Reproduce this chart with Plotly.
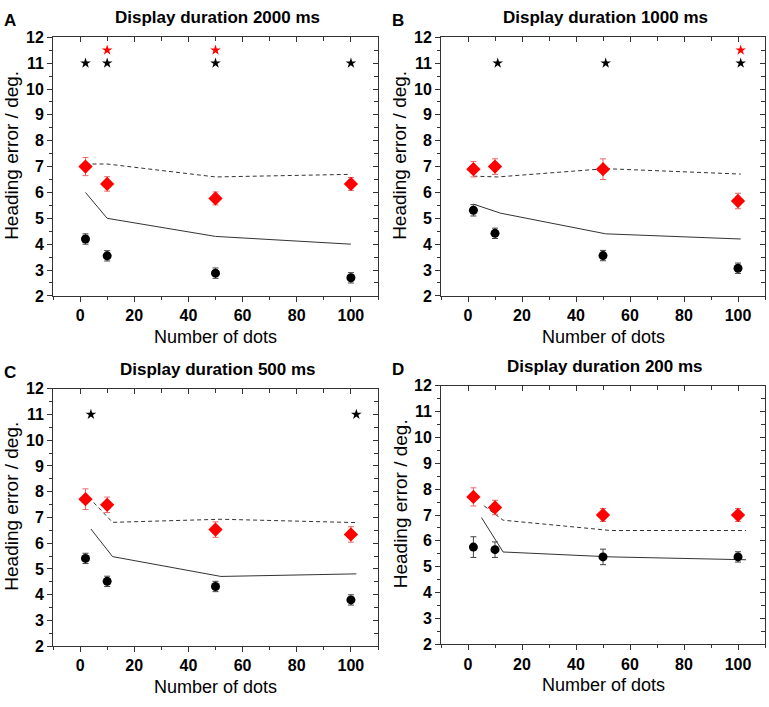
import plotly.graph_objects as go

FONT = "Arial, Liberation Sans, sans-serif"
W, H = 769, 707

dots = [2, 10, 50, 100]
x_ticks = [0, 20, 40, 60, 80, 100]
y_ticks = [2, 3, 4, 5, 6, 7, 8, 9, 10, 11, 12]

# panel A - 2000 ms
a_black = [4.2, 3.55, 2.88, 2.7]
a_black_err = [0.2, 0.2, 0.2, 0.2]
a_red = [7.0, 6.33, 5.77, 6.33]
a_red_err = [0.35, 0.28, 0.25, 0.25]
a_solid_x = [2, 10, 50, 100]
a_solid = [6.0, 5.0, 4.3, 4.0]
a_dash_x = [2, 10, 50, 100]
a_dash = [7.1, 7.1, 6.6, 6.7]
a_star_black = [2, 10, 50, 100]
a_star_red = [10, 50]

# panel B - 1000 ms
b_black = [5.31, 4.42, 3.56, 3.07]
b_black_err = [0.22, 0.2, 0.2, 0.2]
b_red = [6.9, 7.0, 6.9, 5.67]
b_red_err = [0.3, 0.3, 0.4, 0.3]
b_solid_x = [2, 12, 51, 101]
b_solid = [5.55, 5.2, 4.4, 4.2]
b_dash_x = [2, 11, 51, 101]
b_dash = [6.63, 6.6, 6.92, 6.71]
b_star_black = [11, 51, 101]
b_star_red = [101]

# panel C - 500 ms
c_black = [5.41, 4.52, 4.32, 3.8]
c_black_err = [0.2, 0.2, 0.2, 0.2]
c_red = [7.71, 7.49, 6.53, 6.34]
c_red_err = [0.4, 0.3, 0.3, 0.3]
c_solid_x = [4, 12, 52, 102]
c_solid = [6.55, 5.48, 4.71, 4.81]
c_dash_x = [5, 12, 52, 102]
c_dash = [7.58, 6.81, 6.93, 6.8]
c_star_black = [4, 102]
c_star_red = []

# panel D - 200 ms
d_black = [5.76, 5.66, 5.38, 5.38]
d_black_err = [0.4, 0.3, 0.3, 0.2]
d_red = [7.7, 7.29, 7.0, 7.0]
d_red_err = [0.35, 0.28, 0.25, 0.25]
d_solid_x = [5, 13, 53, 103]
d_solid = [6.9, 5.57, 5.38, 5.27]
d_dash_x = [6, 13, 53, 103]
d_dash = [7.35, 6.8, 6.4, 6.4]
d_star_black = []
d_star_red = []

titles = ["Display duration 2000 ms", "Display duration 1000 ms",
          "Display duration 500 ms", "Display duration 200 ms"]
letters = ["A", "B", "C", "D"]

# plot boxes in pixels: left, right, top, bottom
boxes = [(53, 378, 30, 295), (441, 765, 30, 295),
         (53, 378, 390, 654), (441, 765, 387, 652)]

panels = [
    (a_black, a_black_err, a_red, a_red_err, a_solid_x, a_solid, a_dash_x, a_dash, a_star_black, a_star_red),
    (b_black, b_black_err, b_red, b_red_err, b_solid_x, b_solid, b_dash_x, b_dash, b_star_black, b_star_red),
    (c_black, c_black_err, c_red, c_red_err, c_solid_x, c_solid, c_dash_x, c_dash, c_star_black, c_star_red),
    (d_black, d_black_err, d_red, d_red_err, d_solid_x, d_solid, d_dash_x, d_dash, d_star_black, d_star_red),
]

AXC = "#333333"
fig = go.Figure()
layout = {}
annotations = []
tickfont = dict(family=FONT, size=16, color="black", weight="bold")

for i, (blk, blk_e, red, red_e, sx, sy, dx, dy, stb, str_) in enumerate(panels):
    n = i + 1
    xa, ya = f"x{n}", f"y{n}"
    l, r, t, b = boxes[i]
    xd = [l / W, r / W]
    yd = [1 - b / H, 1 - t / H]

    fig.add_trace(go.Scatter(x=sx, y=sy, mode="lines", xaxis=xa, yaxis=ya,
                             line=dict(color="#333333", width=1)))
    fig.add_trace(go.Scatter(x=dx, y=dy, mode="lines", xaxis=xa, yaxis=ya,
                             line=dict(color="#333333", width=1, dash="4px,3px")))
    fig.add_trace(go.Scatter(x=dots, y=blk, mode="markers", xaxis=xa, yaxis=ya,
                             marker=dict(color="black", size=9, symbol="circle"),
                             error_y=dict(type="data", array=blk_e, color="#444444",
                                          thickness=1, width=3)))
    fig.add_trace(go.Scatter(x=dots, y=red, mode="markers", xaxis=xa, yaxis=ya,
                             marker=dict(color="#ff0000", size=11, symbol="diamond"),
                             error_y=dict(type="data", array=red_e, color="#ee6666",
                                          thickness=1, width=3)))
    if stb:
        fig.add_trace(go.Scatter(x=stb, y=[11] * len(stb), mode="markers", xaxis=xa, yaxis=ya,
                                 marker=dict(color="black", size=8, symbol="star")))
    if str_:
        fig.add_trace(go.Scatter(x=str_, y=[11.5] * len(str_), mode="markers", xaxis=xa, yaxis=ya,
                                 marker=dict(color="#ff0000", size=8, symbol="star")))

    common = dict(showgrid=False, zeroline=False, showline=True, linecolor=AXC,
                  linewidth=1, tickcolor=AXC, fixedrange=True)
    layout[f"xaxis{n}"] = dict(common, domain=xd, anchor=ya, range=[-10, 110],
                               tickvals=x_ticks, ticktext=[f"<b>{v}</b>" for v in x_ticks],
                               ticks="outside", ticklen=5,
                               minor=dict(dtick=10, tick0=0, ticks="outside", ticklen=3, tickcolor=AXC),
                               tickfont=tickfont)
    layout[f"yaxis{n}"] = dict(common, domain=yd, anchor=xa, range=[2, 12],
                               tickvals=y_ticks, ticktext=[f"<b>{v}</b>" for v in y_ticks],
                               ticks="outside", ticklen=5,
                               minor=dict(dtick=0.5, tick0=0, ticks="outside", ticklen=3, tickcolor=AXC),
                               tickfont=tickfont)
    # top and right mirror axes with inside ticks
    m = n + 4
    layout[f"xaxis{m}"] = dict(common, overlaying=xa, side="top", anchor=ya, range=[-10, 110],
                               tickvals=x_ticks, ticks="inside", ticklen=5,
                               showticklabels=False,
                               minor=dict(dtick=10, tick0=0, ticks="inside", ticklen=4, tickcolor=AXC))
    layout[f"yaxis{m}"] = dict(common, overlaying=ya, side="right", anchor=xa, range=[2, 12],
                               dtick=1, ticks="inside", ticklen=5, showticklabels=False,
                               minor=dict(dtick=0.5, tick0=0, ticks="inside", ticklen=4, tickcolor=AXC))
    fig.add_trace(go.Scatter(x=[None], y=[None], xaxis=f"x{m}", yaxis=f"y{m}",
                             mode="markers", hoverinfo="skip"))

    cx = (l + r) / 2
    annotations.append(dict(text=f"<b>{titles[i]}</b>", x=(cx + 2) / W, y=1 - (t - 20) / H,
                            xref="paper", yref="paper", showarrow=False,
                            xanchor="center", yanchor="middle",
                            font=dict(family=FONT, size=17, color="black")))
    annotations.append(dict(text=f"<b>{letters[i]}</b>", x=(l - 51) / W, y=1 - (t - 17) / H,
                            xref="paper", yref="paper", showarrow=False,
                            xanchor="left", yanchor="middle",
                            font=dict(family=FONT, size=17, color="black")))
    annotations.append(dict(text="Number of dots", x=cx / W, y=1 - (b + 42) / H,
                            xref="paper", yref="paper", showarrow=False,
                            xanchor="center", yanchor="middle",
                            font=dict(family=FONT, size=18, color="black")))
    annotations.append(dict(text="Heading error / deg.", x=(l - 41) / W, y=1 - ((t + b) / 2 - 11) / H,
                            xref="paper", yref="paper", showarrow=False, textangle=-90,
                            xanchor="center", yanchor="middle",
                            font=dict(family=FONT, size=19, color="black")))

fig.update_layout(
    width=W, height=H,
    margin=dict(l=0, r=0, t=0, b=0),
    paper_bgcolor="white", plot_bgcolor="white",
    showlegend=False,
    annotations=annotations,
    **layout,
)

# the page body has a default 8px margin; drop it so the figure fills the window
fig.write_html("out.html", config={"displayModeBar": False},
               post_script="document.body.style.margin='0';")
